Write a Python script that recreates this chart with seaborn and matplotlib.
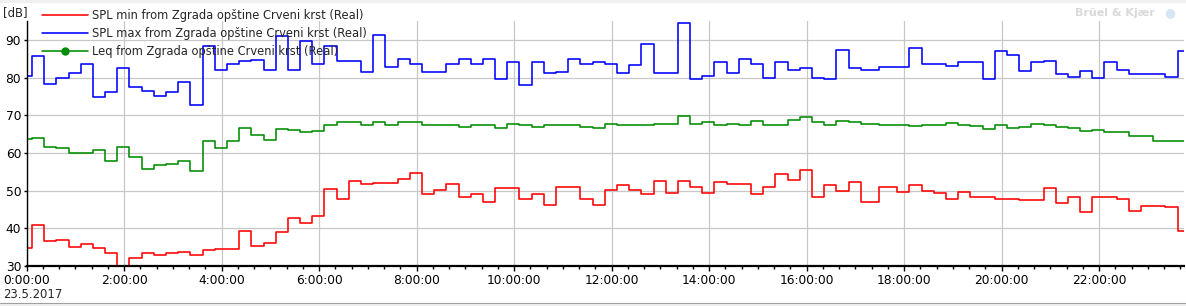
import matplotlib
matplotlib.use("Agg")
import matplotlib.pyplot as plt
from matplotlib.lines import Line2D
from matplotlib.patches import Rectangle
from matplotlib.ticker import MultipleLocator, FixedLocator, FixedFormatter
import seaborn as sns
import pandas as pd

# ---- data -------------------------------------------------------------
# start of each logging interval, minutes after midnight 23.5.2017
# (first interval started on the previous day; one irregular interval near 17:30)
interval_start_min = ([-8.5] + [6.5 + 15 * k for k in range(69)] + [1049.5]
                      + [6.5 + 15 * k for k in range(71, 95)])
end_min = 6.5 + 15 * 95

spl_min = [34.8, 41.0, 36.7, 37.0, 35.0, 35.9, 34.8, 33.5, 28.5, 32.2,
           33.5, 33.0, 33.5, 33.8, 33.0, 34.2, 34.4, 34.4, 39.4, 35.4,
           36.2, 39.1, 42.7, 41.4, 43.3, 50.4, 47.8, 52.6, 51.8, 52.0,
           52.0, 53.1, 54.7, 49.1, 50.2, 51.8, 48.3, 49.1, 47.0, 50.7,
           50.7, 47.8, 49.1, 46.2, 51.0, 51.0, 47.8, 46.2, 50.2, 51.5,
           50.2, 49.1, 52.6, 49.4, 52.6, 51.0, 49.4, 52.3, 51.8, 51.8,
           49.1, 51.0, 54.4, 52.8, 55.5, 48.3, 51.5, 49.9, 52.3, 47.0,
           51.0, 49.6, 51.5, 49.9, 49.4, 47.8, 49.6, 48.3, 48.3, 47.8,
           47.8, 47.5, 47.5, 50.6, 46.7, 48.3, 44.3, 48.3, 48.3, 47.8,
           44.6, 45.9, 45.9, 45.7, 39.4]

spl_max = [80.3, 85.7, 78.4, 80.0, 81.1, 83.7, 74.9, 76.1, 82.4, 77.6,
           76.5, 75.2, 76.1, 78.9, 72.8, 88.3, 81.9, 83.5, 84.5, 84.7,
           81.9, 90.9, 81.9, 89.6, 83.5, 88.5, 84.5, 84.5, 81.6, 91.4,
           82.7, 85.0, 83.5, 81.6, 81.6, 83.5, 84.8, 83.7, 84.8, 79.5,
           84.2, 78.1, 84.0, 81.1, 81.6, 84.8, 83.7, 84.2, 83.5, 81.3,
           83.2, 88.8, 81.3, 81.3, 94.4, 79.5, 80.5, 84.0, 81.3, 85.0,
           83.7, 80.0, 84.0, 82.1, 82.4, 80.0, 79.7, 87.4, 82.4, 81.9,
           82.7, 82.7, 87.8, 83.5, 83.5, 83.0, 84.1, 84.1, 79.6, 87.0,
           85.9, 81.7, 84.1, 84.3, 80.9, 80.1, 81.7, 79.8, 84.1, 82.0,
           80.9, 80.9, 80.9, 80.1, 87.0]

leq = [63.6, 63.9, 61.5, 61.2, 59.9, 59.9, 60.7, 57.8, 61.5, 58.8,
       55.7, 56.7, 57.0, 57.8, 55.1, 63.1, 61.2, 63.1, 66.5, 64.7,
       63.3, 66.3, 66.0, 65.5, 65.7, 67.3, 68.1, 68.3, 67.5, 68.1,
       67.5, 68.1, 68.3, 67.5, 67.3, 67.5, 67.0, 67.5, 67.3, 66.5,
       67.8, 67.3, 67.0, 67.5, 67.3, 67.3, 67.0, 66.7, 67.8, 67.5,
       67.5, 67.5, 67.8, 67.8, 69.9, 67.8, 68.1, 67.5, 67.8, 67.5,
       68.6, 67.5, 67.5, 68.8, 69.6, 68.3, 67.5, 68.6, 68.3, 67.8,
       67.5, 67.5, 67.1, 67.4, 67.4, 67.9, 67.4, 67.1, 66.3, 67.4,
       66.6, 66.8, 67.6, 67.4, 66.8, 66.6, 65.8, 66.0, 65.5, 65.5,
       64.4, 64.6, 63.1, 63.1, 63.1]

series_names = ["SPL min from Zgrada opštine Crveni krst (Real)",
                "SPL max from Zgrada opštine Crveni krst (Real)",
                "Leq from Zgrada opštine Crveni krst (Real)"]
series_colors = ["#ff0000", "#0000ff", "#008c00"]
tick_hours = list(range(0, 24, 2))
tick_labels = [f"{h}:00:00" for h in tick_hours]
y_ticks = [30, 40, 50, 60, 70, 80, 90]
date_label = "23.5.2017"
unit_label = "[dB]"
brand = "Brüel & Kjær"

# ---- long-form table ---------------------------------------------------
hours = [m / 60 for m in interval_start_min] + [end_min / 60]
frames = []
for name, vals in zip(series_names, [spl_min, spl_max, leq]):
    frames.append(pd.DataFrame({"time": hours,
                                "level": vals + [vals[-1]],
                                "series": name}))
df = pd.concat(frames, ignore_index=True)

# ---- figure ------------------------------------------------------------
sns.set_style("white")
plt.rcParams["font.family"] = ["DejaVu Sans"]
plt.rcParams["font.size"] = 8.4

W, H = 1186, 306
fig = plt.figure(figsize=(W / 100, H / 100), dpi=100)
fig.patch.set_facecolor("white")
ax = fig.add_axes([26.7 / W, 40 / H, (1184 - 26.7) / W, (266 - 21) / H])
ax.set_facecolor("white")

sns.lineplot(data=df, x="time", y="level", hue="series",
             palette=dict(zip(series_names, series_colors)),
             hue_order=series_names, estimator=None, sort=False,
             drawstyle="steps-post", linewidth=1.15, legend=False, ax=ax)

ax.set_xlim(0, 23.74)
ax.set_ylim(30, 95)
ax.set_xlabel("")
ax.set_ylabel("")

ax.xaxis.set_major_locator(FixedLocator(tick_hours))
ax.xaxis.set_major_formatter(FixedFormatter(tick_labels))
ax.xaxis.set_minor_locator(MultipleLocator(1 / 3))
ax.yaxis.set_major_locator(FixedLocator(y_ticks))

ax.grid(True, which="major", color="#c8c8c8", linewidth=0.9)
ax.set_axisbelow(True)
for s in ["top", "right"]:
    ax.spines[s].set_visible(False)
ax.spines["left"].set_color("black")
ax.spines["left"].set_linewidth(1.0)
ax.spines["bottom"].set_color("black")
ax.spines["bottom"].set_linewidth(1.6)

ax.tick_params(axis="x", which="major", direction="out", length=3.5,
               width=1, color="black", pad=2, labelsize=8.8, labelcolor="black")
ax.tick_params(axis="x", which="minor", direction="out", length=2,
               width=1, color="black")
ax.tick_params(axis="y", which="major", direction="out", length=2.5,
               width=1, color="black", pad=1.5, labelsize=8.8, labelcolor="black")
ax.tick_params(bottom=True, left=True, which="both")

# legend (transparent, partly over the plot)
handles = []
for name, c in zip(series_names, series_colors):
    if name.startswith("Leq"):
        h = Line2D([], [], color=c, linewidth=1.15, marker="o", markersize=5,
                   markevery=[0])
    else:
        h = Line2D([], [], color=c, linewidth=1.15)
    handles.append(h)
fig.legend(handles, series_names, loc="upper left",
           bbox_to_anchor=(42 / W, 1 - 9.5 / H), bbox_transform=fig.transFigure,
           frameon=False, fontsize=8.3, handlelength=4.0, handletextpad=0.35,
           labelspacing=0.42, borderpad=0, borderaxespad=0, numpoints=1)

fig.text(3 / W, 1 - 13 / H, unit_label, ha="left", va="center", fontsize=8.4)
fig.text(3 / W, 1 - 295 / H, date_label, ha="left", va="center", fontsize=8.4)
fig.text(1155 / W, 1 - 12.5 / H, brand, ha="right", va="center", fontsize=8,
         fontweight="bold", color="#d9d9d9")
fig.text(1170 / W, 1 - 12.5 / H, "\u25CF", ha="center", va="center",
         fontsize=9, color="#d6e6f6")

# window frame strips
fig.add_artist(Rectangle((0, 1 - 3 / H), 1, 3 / H, transform=fig.transFigure,
                         facecolor="#f0f0f0", edgecolor="none"))
fig.add_artist(Rectangle((0, 0), 1, 3 / H, transform=fig.transFigure,
                         facecolor="#f0f0f0", edgecolor="none"))
fig.add_artist(Line2D([0, 1], [3 / H, 3 / H], transform=fig.transFigure,
                      color="#a0a0a0", linewidth=0.8))

fig.savefig("out.png", dpi=100, facecolor="white")
